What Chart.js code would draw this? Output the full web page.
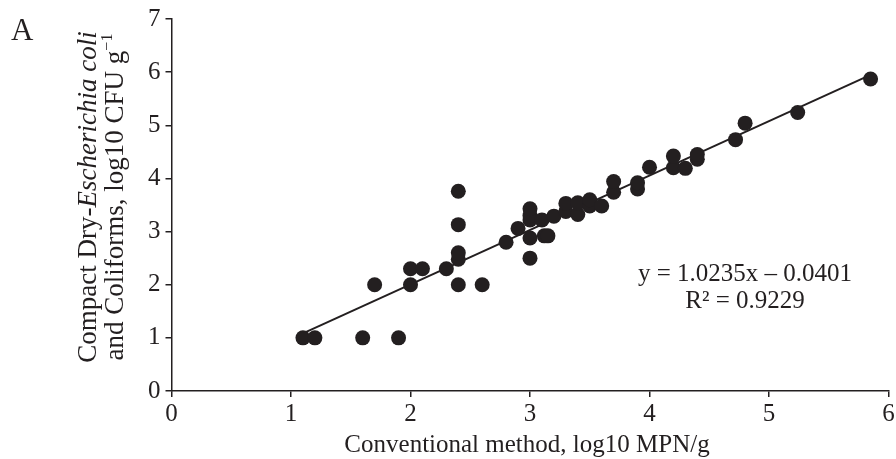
<!DOCTYPE html>
<html>
<head>
<meta charset="utf-8">
<script src="https://cdn.jsdelivr.net/npm/chart.js@4/dist/chart.umd.min.js"></script>
<style>
html,body{margin:0;padding:0;background:#fff;}
#wrap{width:896px;height:459px;position:relative;}
</style>
</head>
<body>
<div id="wrap"><canvas id="c" width="896" height="459"></canvas></div>
<script>
// Data
const conventional = [1.1,1.2,1.6,1.9,1.7,2.0,2.0,2.1,2.3,2.4,2.4,2.4,2.4,2.4,2.6,2.8,2.9,3.0,3.0,3.0,3.0,3.0,3.1,3.12,3.15,3.2,3.3,3.3,3.4,3.4,3.5,3.5,3.6,3.7,3.7,3.9,3.9,4.0,4.2,4.2,4.3,4.4,4.4,4.72,4.8,5.24,5.85];
const compactDry   = [1.0,1.0,1.0,1.0,2.0,2.0,2.3,2.3,2.3,2.0,2.48,2.6,3.13,3.76,2.0,2.8,3.06,2.5,2.88,3.22,3.3,3.43,3.22,2.92,2.92,3.29,3.38,3.53,3.32,3.54,3.48,3.6,3.48,3.74,3.94,3.8,3.92,4.21,4.2,4.42,4.19,4.36,4.45,4.73,5.04,5.24,5.87];
const slope = 1.0235;
const intercept = -0.0401;
const rSquared = 0.9229;
const xTicks = [0,1,2,3,4,5,6];
const yTicks = [0,1,2,3,4,5,6,7];

const INK = '#231f20';
const SERIF = '"Liberation Serif", "Times New Roman", serif';
const FS = 25;
const YFS = 27;

const points = conventional.map((x,i)=>({x:x,y:compactDry[i]}));
const xMin = Math.min(...conventional), xMax = Math.max(...conventional);
const trend = [{x:xMin,y:slope*xMin+intercept},{x:xMax,y:slope*xMax+intercept}];

function drawMixed(ctx, parts, cx, cy){
  let total = 0;
  parts.forEach(p=>{ctx.font=p.font; p.w=ctx.measureText(p.t).width; total+=p.w;});
  let x = cx - total/2;
  ctx.textAlign='left';
  parts.forEach(p=>{ctx.font=p.font; ctx.fillText(p.t, x, cy+(p.dy||0)); x+=p.w;});
}

const textPlugin = {
  id:'texts',
  afterDraw(chart){
    const ctx = chart.ctx;
    ctx.save();
    ctx.fillStyle = INK;
    ctx.textBaseline = 'alphabetic';
    // Panel letter
    ctx.font = '31px '+SERIF;
    ctx.textAlign='left';
    ctx.fillText('A', 11, 40);
    // x title
    ctx.font = FS+'px '+SERIF;
    ctx.textAlign='center';
    ctx.fillText('Conventional method, log10 MPN/g', 527, 452);
    // equation
    ctx.fillText('y = '+slope.toFixed(4)+'x \u2013 '+Math.abs(intercept).toFixed(4), 745, 281);
    ctx.fillText('R\u00B2 = '+rSquared.toFixed(4), 745, 308);
    // y title (rotated)
    ctx.save();
    ctx.translate(96, 197);
    ctx.rotate(-Math.PI/2);
    drawMixed(ctx,[
      {t:'Compact Dry-', font:YFS+'px '+SERIF},
      {t:'Escherichia coli', font:'italic '+YFS+'px '+SERIF}
    ],0,0);
    drawMixed(ctx,[
      {t:'and Coliforms, log10 CFU g', font:YFS+'px '+SERIF},
      {t:'\u22121', font:'16px '+SERIF, dy:-11}
    ],0,27);
    ctx.restore();
    ctx.restore();
  }
};

new Chart(document.getElementById('c'), {
  type:'scatter',
  data:{
    datasets:[
      {type:'scatter', data:points, backgroundColor:INK, borderColor:INK, pointRadius:7.5, pointHoverRadius:7.5, borderWidth:0, order:1},
      {type:'line', data:trend, borderColor:INK, borderWidth:2, pointRadius:0, fill:false, tension:0, order:2}
    ]
  },
  options:{
    responsive:false,
    animation:false,
    events:[],
    layout:{padding:{left:0,right:3,top:19,bottom:0}},
    plugins:{legend:{display:false}, tooltip:{enabled:false}},
    scales:{
      x:{
        type:'linear', min:0, max:6,
        afterBuildTicks(s){ s.ticks = xTicks.map(v=>({value:v})); },
        afterFit(s){ s.height = 68; s.paddingLeft=0; s.paddingRight=0; },
        grid:{display:true, drawOnChartArea:false, drawTicks:true, tickLength:6, color:INK, lineWidth:1.5},
        border:{display:true, color:INK, width:1.5},
        ticks:{color:INK, font:{family:SERIF, size:FS}, padding:2, maxRotation:0, autoSkip:false}
      },
      y:{
        type:'linear', min:0, max:7,
        afterBuildTicks(s){ s.ticks = yTicks.map(v=>({value:v})); },
        afterFit(s){ s.width = 171.5; s.paddingTop=0; s.paddingBottom=0; },
        grid:{display:true, drawOnChartArea:false, drawTicks:true, tickLength:6, color:INK, lineWidth:1.5},
        border:{display:true, color:INK, width:1.5},
        ticks:{color:INK, font:{family:SERIF, size:FS}, padding:5, autoSkip:false}
      }
    }
  },
  plugins:[textPlugin]
});
</script>
</body>
</html>
